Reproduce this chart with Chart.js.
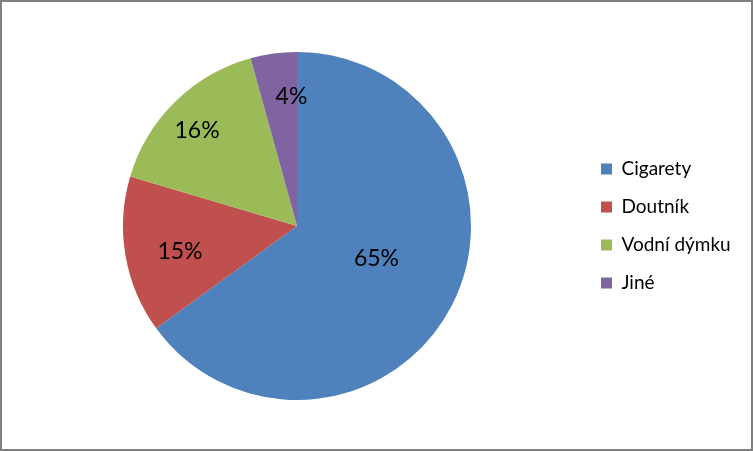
<!DOCTYPE html>
<html>
<head>
<meta charset="utf-8">
<script src="https://cdn.jsdelivr.net/npm/chart.js@4/dist/chart.umd.min.js"></script>
<style>
html,body{margin:0;padding:0;background:#fff;}
canvas{display:block;}
</style>
</head>
<body>
<canvas id="c" width="753" height="451"></canvas>
<script>
const categories = ["Cigarety", "Doutník", "Vodní dýmku", "Jiné"];
const values = [65.0, 14.6, 16.1, 4.3];
const colors = ["#4F81BD", "#C0504D", "#9BBB59", "#8064A2"];
// label placement styling (fraction of radius, angular shift in degrees)
const labelRadius = [0.494, 0.689, 0.795, 0.745];
const labelShift = [-4.6, -2.8, -1.8, 5.3];

const FONT = "Lato";
const legendFontSize = 19;
const labelFontSize = 23;
const legendPad = 19;
const boxW = 11;

const mc = document.createElement("canvas").getContext("2d");
mc.font = "normal " + legendFontSize + "px " + FONT;
let maxText = 0;
categories.forEach(t => { maxText = Math.max(maxText, mc.measureText(t).width); });
const legendLeft = 601 - legendPad;
const naturalW = legendPad + boxW + legendFontSize / 2 + maxText + 10;
const rightPad = Math.max(0, 753 - legendLeft - naturalW);
const leftPad = 2 * 297 - legendLeft;

const frame = {
  id: "frame",
  beforeDraw(chart) {
    const ctx = chart.ctx;
    ctx.save();
    ctx.fillStyle = "#fff";
    ctx.fillRect(0, 0, chart.width, chart.height);
    ctx.restore();
  },
  afterDraw(chart) {
    const ctx = chart.ctx;
    ctx.save();
    ctx.strokeStyle = "#808080";
    ctx.lineWidth = 2;
    ctx.strokeRect(1, 1, chart.width - 2, chart.height - 2);
    ctx.restore();
  }
};

const pctLabels = {
  id: "pctLabels",
  afterDatasetsDraw(chart) {
    const ctx = chart.ctx;
    const meta = chart.getDatasetMeta(0);
    const data = chart.data.datasets[0].data;
    const total = data.reduce((a, b) => a + b, 0);
    ctx.save();
    ctx.font = "normal " + labelFontSize + "px " + FONT;
    ctx.fillStyle = "#000";
    ctx.textAlign = "center";
    ctx.textBaseline = "middle";
    meta.data.forEach((arc, i) => {
      const p = arc.getProps(["x", "y", "startAngle", "endAngle", "outerRadius"], true);
      const mid = (p.startAngle + p.endAngle) / 2 + labelShift[i] * Math.PI / 180;
      const r = p.outerRadius * labelRadius[i];
      const x = p.x + Math.cos(mid) * r;
      const y = p.y + Math.sin(mid) * r;
      ctx.fillText(Math.round(data[i] / total * 100) + "%", x, y);
    });
    ctx.restore();
  }
};

new Chart(document.getElementById("c"), {
  type: "pie",
  data: {
    labels: categories,
    datasets: [{
      data: values,
      backgroundColor: colors,
      borderWidth: 0
    }]
  },
  options: {
    responsive: false,
    animation: false,
    devicePixelRatio: 1,
    layout: { padding: { left: leftPad, right: rightPad, top: 52, bottom: 51 } },
    plugins: {
      tooltip: { enabled: false },
      legend: {
        position: "right",
        align: "center",
        maxWidth: 753 - legendLeft,
        labels: {
          font: { family: FONT, size: legendFontSize },
          color: "#000",
          boxWidth: boxW,
          boxHeight: boxW,
          padding: legendPad
        }
      }
    }
  },
  plugins: [frame, pctLabels]
});
</script>
</body>
</html>
